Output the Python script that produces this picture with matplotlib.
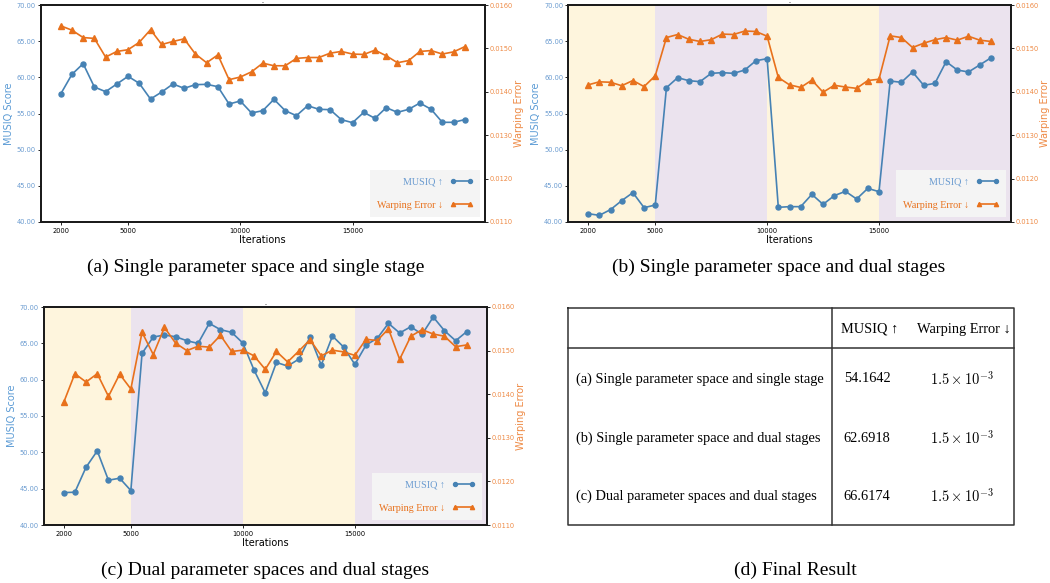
import numpy as np
import matplotlib
matplotlib.use("Agg")
import matplotlib.pyplot as plt
from matplotlib.ticker import FormatStrFormatter

# ---------------- data ----------------
iterations = list(range(2000, 20001, 500))
xticks = [2000, 5000, 10000, 15000]
stage_bounds = [5000, 10000, 15000]

musiq_a = [57.70, 60.41, 61.89, 58.66, 58.02, 59.08, 60.14, 59.17, 57.00, 57.97,
           59.08, 58.48, 58.99, 59.03, 58.71, 56.31, 56.73, 55.07, 55.39, 56.96,
           55.39, 54.70, 56.08, 55.58, 55.53, 54.15, 53.73, 55.16, 54.33, 55.81,
           55.16, 55.58, 56.45, 55.58, 53.78, 53.78, 54.16]
warp_a = [0.01552, 0.01542, 0.01525, 0.01523, 0.01480, 0.01493, 0.01497, 0.01514, 0.01543, 0.01509,
          0.01516, 0.01522, 0.01487, 0.01467, 0.01485, 0.01428, 0.01434, 0.01446, 0.01466, 0.01460,
          0.01460, 0.01477, 0.01479, 0.01479, 0.01489, 0.01493, 0.01487, 0.01486, 0.01496, 0.01483,
          0.01467, 0.01472, 0.01493, 0.01495, 0.01487, 0.01492, 0.01504]

musiq_b = [41.15, 40.92, 41.71, 42.95, 44.06, 41.98, 42.35, 58.57, 59.95, 59.54,
           59.40, 60.55, 60.65, 60.55, 61.01, 62.30, 62.58, 42.03, 42.12, 42.12,
           43.82, 42.44, 43.64, 44.24, 43.18, 44.65, 44.19, 59.49, 59.31, 60.74,
           58.89, 59.17, 62.17, 61.01, 60.74, 61.71, 62.69]
warp_b = [0.01416, 0.01423, 0.01422, 0.01414, 0.01426, 0.01412, 0.01437, 0.01525, 0.01532, 0.01521,
          0.01516, 0.01520, 0.01533, 0.01532, 0.01540, 0.01539, 0.01528, 0.01433, 0.01416, 0.01410,
          0.01427, 0.01399, 0.01415, 0.01411, 0.01408, 0.01426, 0.01429, 0.01529, 0.01525, 0.01502,
          0.01512, 0.01520, 0.01525, 0.01519, 0.01528, 0.01519, 0.01516]

musiq_c = [44.46, 44.51, 47.95, 50.20, 46.16, 46.44, 44.74, 63.62, 65.87, 66.14,
           65.91, 65.36, 64.99, 67.75, 66.88, 66.51, 65.04, 61.32, 58.19, 62.37,
           61.87, 62.83, 65.87, 62.01, 66.00, 64.49, 62.10, 64.77, 65.69, 67.75,
           66.42, 67.29, 66.23, 68.62, 66.74, 65.36, 66.62]
warp_c = [0.01381, 0.01447, 0.01428, 0.01447, 0.01395, 0.01446, 0.01412, 0.01542, 0.01491, 0.01553,
          0.01517, 0.01500, 0.01510, 0.01508, 0.01535, 0.01498, 0.01501, 0.01488, 0.01457, 0.01498,
          0.01474, 0.01499, 0.01525, 0.01488, 0.01501, 0.01497, 0.01489, 0.01526, 0.01523, 0.01550,
          0.01480, 0.01533, 0.01548, 0.01538, 0.01533, 0.01509, 0.01513]

captions = ["(a) Single parameter space and single stage",
            "(b) Single parameter space and dual stages",
            "(c) Dual parameter spaces and dual stages",
            "(d) Final Result"]
table_header = ["MUSIQ \u2191", "Warping Error \u2193"]
table_rows = ["(a) Single parameter space and single stage",
              "(b) Single parameter space and dual stages",
              "(c) Dual parameter spaces and dual stages"]
table_musiq = ["54.1642", "62.6918", "66.6174"]
table_warp = [r"$1.5 \times 10^{-3}$", r"$1.5 \times 10^{-3}$", r"$1.5 \times 10^{-3}$"]

# ---------------- style ----------------
plt.rcParams['mathtext.fontset'] = 'cm'
SERIF = ['Liberation Serif', 'DejaVu Serif']
BLUE = '#4682B4'
ORANGE = '#E8711C'
BLUE_T = '#6A9BD0'
ORANGE_T = '#EE8A45'
YELLOW = '#FEF5DD'
LAVENDER = '#EBE3EE'

W, H = 1050, 583
fig = plt.figure(figsize=(W / 100, H / 100), dpi=100)


def rect(l, t, r, b):
    return [l / W, 1 - b / H, (r - l) / W, (b - t) / H]


def panel(pos, musiq, warp, shaded):
    ax = fig.add_axes(pos)
    ax2 = ax.twinx()
    xmin, xmax = 1100, 20900
    ax.set_xlim(xmin, xmax)
    if shaded:
        edges = [xmin] + stage_bounds + [xmax]
        cols = [YELLOW, LAVENDER, YELLOW, LAVENDER]
        for i in range(4):
            ax.axvspan(edges[i], edges[i + 1], color=cols[i], lw=0, zorder=0)
    l1, = ax.plot(iterations, musiq, '-o', color=BLUE, lw=1.2, ms=3.6, zorder=3,
                  label='MUSIQ \u2191')
    l2, = ax2.plot(iterations, warp, '-^', color=ORANGE, lw=1.2, ms=3.8, zorder=3,
                   label='Warping Error \u2193')
    ax.set_ylim(40, 70)
    ax.set_yticks(np.arange(40, 70.1, 5))
    ax.yaxis.set_major_formatter(FormatStrFormatter('%.2f'))
    ax2.set_ylim(0.0110, 0.0160)
    ax2.set_yticks(np.arange(0.0110, 0.01601, 0.0010))
    ax2.yaxis.set_major_formatter(FormatStrFormatter('%.4f'))
    ax.set_xticks(xticks)
    ax.tick_params(axis='x', labelsize=4.8, length=2, width=0.6, pad=2)
    ax.tick_params(axis='y', labelsize=4.8, length=2, width=0.6, pad=1.5,
                   labelcolor=BLUE_T)
    ax2.tick_params(axis='y', labelsize=4.8, length=2, width=0.6, pad=1.5,
                    labelcolor=ORANGE_T)
    ax.set_xlabel('Iterations', fontsize=7, labelpad=1)
    ax.set_ylabel('MUSIQ Score', fontsize=7, color='#5B9BD5', labelpad=2)
    ax2.set_ylabel('Warping Error', fontsize=7, color=ORANGE_T, labelpad=0.5)
    for a in (ax, ax2):
        for s in a.spines.values():
            s.set_linewidth(1.3)
            s.set_color('#1a1a1a')
    ax.set_title('-', fontsize=4, pad=0.5)
    ax2.legend(handles=[l1, l2], loc='lower right', markerfirst=False,
               numpoints=2, prop={'family': SERIF, 'size': 7.3},
               labelcolor=[BLUE_T, ORANGE], frameon=True, fancybox=False,
               facecolor='#F4F4F4', edgecolor='none', framealpha=1,
               labelspacing=1.4, handlelength=2.3, handletextpad=0.6,
               borderpad=0.75, borderaxespad=0.45, markerscale=0.8)
    return ax, ax2


panel(rect(40.5, 5, 485, 222), musiq_a, warp_a, False)
panel(rect(568, 5, 1011, 222), musiq_b, warp_b, True)
panel(rect(43.5, 307, 487, 525), musiq_c, warp_c, True)

# captions
cap_pos = [(256, 267), (779, 267), (265, 570), (795, 570)]
for txt, (cx, cy) in zip(captions, cap_pos):
    fig.text(cx / W, 1 - cy / H, txt, ha='center', va='center',
             fontsize=14, family=SERIF)

# table (d)
tax = fig.add_axes([0, 0, 1, 1], facecolor='none')
tax.set_xlim(0, W)
tax.set_ylim(H, 0)
tax.axis('off')
L, R, T, B = 568, 1014, 308, 525
VX, HY = 832, 348
lc = '#333333'
tax.plot([L, R, R, L, L], [T, T, B, B, T], color=lc, lw=1.1)
tax.plot([VX, VX], [T, B], color=lc, lw=1.1)
tax.plot([L, R], [HY, HY], color=lc, lw=1.1)
FS = 10.4
tax.text(870, 329, table_header[0], ha='center', va='center', fontsize=FS, family=SERIF)
tax.text(964, 329, table_header[1], ha='center', va='center', fontsize=FS, family=SERIF)
row_y = [379, 438, 496]
for lab, m, w, y in zip(table_rows, table_musiq, table_warp, row_y):
    tax.text(576, y, lab, ha='left', va='center', fontsize=FS, family=SERIF)
    tax.text(867, y, m, ha='center', va='center', fontsize=FS, family=SERIF)
    tax.text(962, y, w, ha='center', va='center', fontsize=FS)

fig.savefig('out.png', dpi=100)
